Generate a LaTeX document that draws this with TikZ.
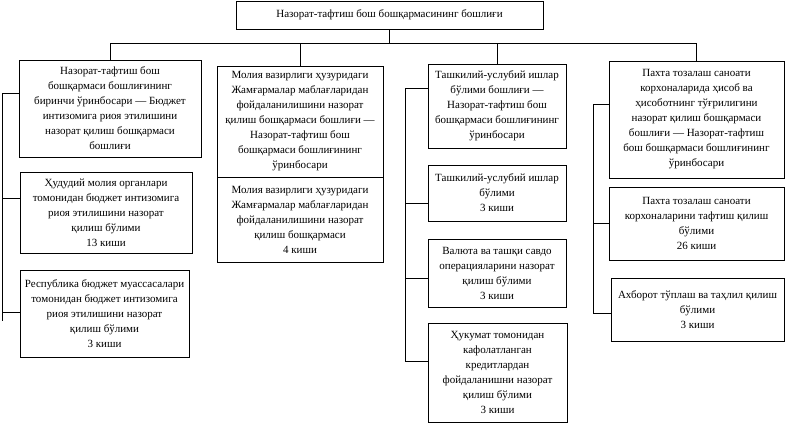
\documentclass[tikz,border=0pt]{standalone}
\usepackage{fontspec}
\setmainfont{Liberation Serif}
\tikzset{
  box/.style={draw, line width=0.8pt, align=center, inner sep=1pt,
    font=\fontsize{11}{15}\selectfont},
  conn/.style={line width=0.8pt}
}
\begin{document}
\begin{tikzpicture}[x=1pt,y=-1pt]
\useasboundingbox (0,0) rectangle (786,424);
% top
\node[box, minimum width=307, minimum height=28] (top) at (389.5,15) {Назорат-тафтиш бош бошқармасининг бошлиғи};
% left column
\node[box, minimum width=182, minimum height=97] (l1) at (110,108.5) {Назорат-тафтиш бош\\бошқармаси бошлиғининг\\биринчи ўринбосари — Бюджет\\интизомига риоя этилишини\\назорат қилиш бошқармаси\\бошлиғи};
\node[box, minimum width=172, minimum height=81] (l2) at (106,212.5) {Ҳудудий молия органлари\\томонидан бюджет интизомига\\риоя этилишини назорат\\қилиш бўлими\\13 киши};
\node[box, minimum width=169, minimum height=87] (l3) at (104.5,313.5) {Республика бюджет муассасалари\\томонидан бюджет интизомига\\риоя этилишини назорат\\қилиш бўлими\\3 киши};
% middle column
\node[box, minimum width=166, minimum height=111] (m1) at (300,121.5) {Молия вазирлиги ҳузуридаги\\Жамғармалар маблағларидан\\фойдаланилишини назорат\\қилиш бошқармаси бошлиғи —\\Назорат-тафтиш бош\\бошқармаси бошлиғининг\\ўринбосари};
\node[box, minimum width=166, minimum height=85] (m2) at (300,219.5) {Молия вазирлиги ҳузуридаги\\Жамғармалар маблағларидан\\фойдаланилишини назорат\\қилиш бошқармаси\\4 киши};
% third column
\node[box, minimum width=138, minimum height=84] (c1) at (497,106) {Ташкилий-услубий ишлар\\бўлими бошлиғи —\\Назорат-тафтиш бош\\бошқармаси бошлиғининг\\ўринбосари};
\node[box, minimum width=138, minimum height=56] (c2) at (497,193) {Ташкилий-услубий ишлар\\бўлими\\3 киши};
\node[box, minimum width=138, minimum height=68] (c3) at (497,273) {Валюта ва ташқи савдо\\операцияларини назорат\\қилиш бўлими\\3 киши};
\node[box, minimum width=139, minimum height=99] (c4) at (497.5,372.5) {Ҳукумат томонидан\\кафолатланган\\кредитлардан\\фойдаланишни назорат\\қилиш бўлими\\3 киши};
% right column
\node[box, minimum width=175, minimum height=117] (r1) at (696.5,119.5) {Пахта тозалаш саноати\\корхоналарида ҳисоб ва\\ҳисоботнинг тўғрилигини\\назорат қилиш бошқармаси\\бошлиғи — Назорат-тафтиш\\бош бошқармаси бошлиғининг\\ўринбосари};
\node[box, minimum width=175, minimum height=73] (r2) at (696.5,223.5) {Пахта тозалаш саноати\\корхоналарини тафтиш қилиш\\бўлими\\26 киши};
\node[box, minimum width=173, minimum height=63] (r3) at (697.5,309.5) {Ахборот тўплаш ва таҳлил қилиш\\бўлими\\3 киши};
% bus
\coordinate (bus) at (0,43);
\draw[conn] (top.south) -- (top.south |- bus);
\draw[conn] (l1.north |- bus) -- (r1.north |- bus);
\draw[conn] (l1.north |- bus) -- (l1.north);
\draw[conn] (m1.north |- bus) -- (m1.north);
\draw[conn] (c1.north |- bus) -- (c1.north);
\draw[conn] (r1.north |- bus) -- (r1.north);
% left spine
\coordinate (ls1) at (2,93);
\coordinate (ls2) at (2,198);
\coordinate (ls3) at (2,312);
\coordinate (lse) at (2,321);
\draw[conn] (ls1) -- (lse);
\draw[conn] (ls1) -- (ls1 -| l1.west);
\draw[conn] (ls2) -- (ls2 -| l2.west);
\draw[conn] (ls3) -- (ls3 -| l3.west);
% third spine
\coordinate (cs1) at (405,88);
\coordinate (cs2) at (405,203);
\coordinate (cs3) at (405,278);
\coordinate (cs4) at (405,361);
\draw[conn] (cs1) -- (cs4);
\draw[conn] (cs1) -- (cs1 -| c1.west);
\draw[conn] (cs2) -- (cs2 -| c2.west);
\draw[conn] (cs3) -- (cs3 -| c3.west);
\draw[conn] (cs4) -- (cs4 -| c4.west);
% right spine
\coordinate (rs1) at (593,104);
\coordinate (rs2) at (593,223);
\coordinate (rs3) at (593,313);
\draw[conn] (rs1) -- (rs3);
\draw[conn] (rs1) -- (rs1 -| r1.west);
\draw[conn] (rs2) -- (rs2 -| r2.west);
\draw[conn] (rs3) -- (rs3 -| r3.west);
\end{tikzpicture}
\end{document}
